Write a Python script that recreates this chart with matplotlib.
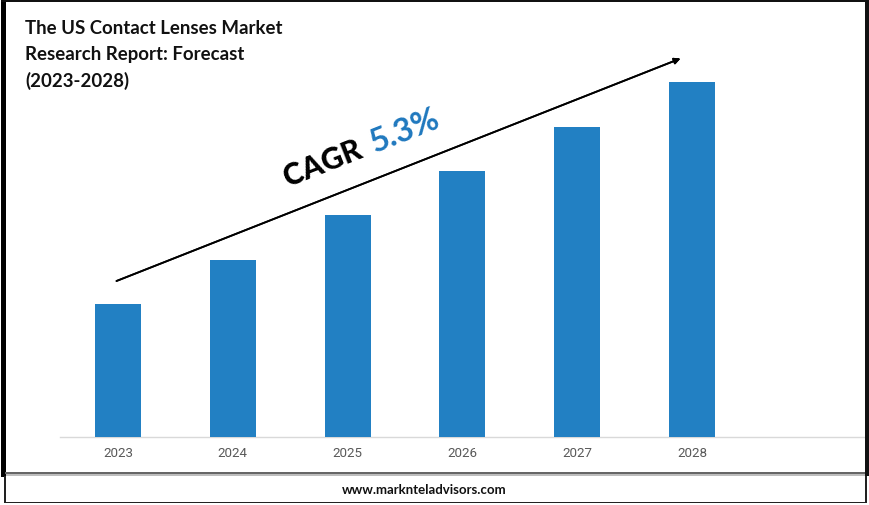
import matplotlib
matplotlib.use("Agg")
import matplotlib.pyplot as plt
from matplotlib.patches import Rectangle

years = ["2023", "2024", "2025", "2026", "2027", "2028"]
values = [133, 177, 222, 266, 310, 355]  # relative bar heights (no value axis in the source)
title = "The US Contact Lenses Market\nResearch Report: Forecast\n(2023-2028)"

W, H = 870, 506
fig = plt.figure(figsize=(W / 100, H / 100), dpi=100, facecolor="white")

def fx(x): return x / W
def fy(y): return 1 - y / H

def rect(x0, y0, x1, y1, color, z=1):
    fig.add_artist(Rectangle((fx(x0), fy(y1)), fx(x1 - x0), (y1 - y0) / H, transform=fig.transFigure,
                             facecolor=color, edgecolor="none", zorder=z))

rect(1.5, 1, 6, 478, "black")
rect(1.5, 0, 869, 3, "#111111")
rect(865, 1, 869, 477, "#111111")
rect(5, 473, 865, 475, "#666666")
rect(6, 475, 865, 477, "#bdbdbd")
rect(4.5, 477, 6.5, 504, "#222222")
rect(865, 477, 867, 504, "#222222")
rect(4.5, 502.8, 867, 504.2, "#222222")

ax = fig.add_axes([fx(60), fy(437.5), fx(865 - 60), (437.5 - 60) / H])
ax.patch.set_alpha(0)
pos = list(range(len(years)))
ax.bar(pos, values, width=0.40, color="#2280C3", zorder=3)
ax.set_xlim(-0.505, 6.507)
ax.set_ylim(0, 377.5)
ax.set_xticks(pos)
ax.set_xticklabels(years, fontsize=9.6, color="#595959", family="Roboto")
ax.tick_params(axis="x", length=0, pad=7)
ax.set_yticks([])
for s in ["top", "left", "right"]:
    ax.spines[s].set_visible(False)
ax.spines["bottom"].set_color("#d9d9d9")
ax.spines["bottom"].set_linewidth(1.0)

fig.text(fx(25), fy(20.5), title, fontsize=13.4, fontweight="bold", family="Lato", color="#111111",
         va="top", ha="left", linespacing=1.6)

fig.add_artist(plt.annotate("", xy=(fx(680.5), fy(59.5)), xytext=(fx(116.5), fy(282)),
                            xycoords="figure fraction", textcoords="figure fraction",
                            arrowprops=dict(arrowstyle="-|>", color="black", lw=1.3,
                                            mutation_scale=9, shrinkA=0, shrinkB=0)))

fig.text(fx(323), fy(164), "CAGR", fontsize=21.5, fontweight=900, family="Lato", color="black",
         rotation=21.5, ha="center", va="center", rotation_mode="anchor")
fig.text(fx(405), fy(131), "5.3%", fontsize=23.5, fontweight="bold", family="Lato", color="#1F78BE",
         rotation=21.5, ha="center", va="center", rotation_mode="anchor")

fig.text(fx(424.5), fy(490), "www.marknteladvisors.com", fontsize=9.5, fontweight="bold", family="Lato",
         color="#111111", ha="center", va="center")

fig.savefig("out.png", dpi=100)
